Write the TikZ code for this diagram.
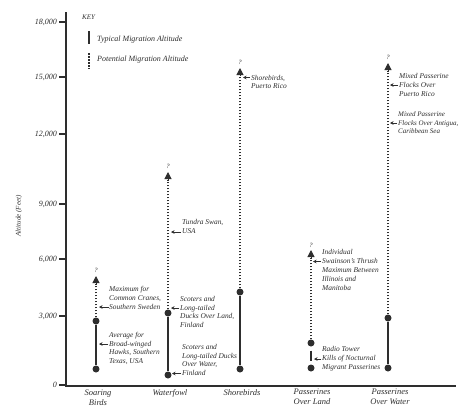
\documentclass[tikz,border=0pt]{standalone}
\usepackage{fontspec}
\setmainfont{Liberation Serif}
\usetikzlibrary{arrows.meta}
\definecolor{ink}{HTML}{2E2E2E}
\begin{document}
\begin{tikzpicture}[x=1pt,y=-1pt,
 lbl/.style={font=\fontsize{7.4}{8.9}\selectfont\itshape, text=ink, align=left, anchor=west, inner sep=0pt},
 keylbl/.style={font=\fontsize{8}{9}\selectfont\itshape, text=ink, anchor=west, inner sep=0pt},
 cat/.style={font=\fontsize{8.5}{10}\selectfont\itshape, text=ink, align=center, inner sep=0pt},
 ticklbl/.style={font=\fontsize{8}{9}\selectfont\itshape, text=ink, anchor=east, inner sep=0pt},
 qm/.style={font=\fontsize{6.5}{7}\selectfont\itshape, text=ink, inner sep=0pt},
 dotnode/.style={circle, fill=ink, inner sep=0pt, minimum size=7pt},
 solidbar/.style={draw=ink, line width=2.4pt},
 dotbar/.style={draw=ink, line width=2.4pt, dash pattern=on 1.7pt off 1.3pt},
 uptip/.style={draw=ink, line width=1pt, -{Triangle[width=7pt,length=7pt]}},
 ptr/.style={draw=ink, line width=0.9pt, -{Stealth[length=3.5pt,width=3.5pt]}},
 axisline/.style={draw=ink, line width=1.6pt},
 tickline/.style={draw=ink, line width=1.3pt},
]
\path[use as bounding box, fill=white] (0,0) rectangle (458,410);

% axes
\coordinate (ytop) at (66,12);
\coordinate (orig) at (66,386);
\coordinate (xend) at (456,386);
\draw[axisline] (ytop) -- (orig) -- (xend);

% ticks
\foreach \v/\yy/\nm in {0/385/t0, 3{,}000/316/t3, 6{,}000/259/t6, 9{,}000/204/t9, 12{,}000/134/t12, 15{,}000/77/t15, 18{,}000/22/t18}{
  \coordinate (\nm a) at (59,\yy);
  \coordinate (\nm b) at (66,\yy);
  \draw[tickline] (\nm a) -- (\nm b);
  \node[ticklbl] (\nm l) at (57,\yy) {\v};
}
\node[rotate=90, font=\fontsize{7}{8}\selectfont\itshape, text=ink, inner sep=0pt] (ylab) at (19,216) {Altitude (Feet)};

% key
\node[font=\fontsize{7}{8}\selectfont\itshape, text=ink, anchor=west, inner sep=0pt] (key) at (82,17) {KEY};
\coordinate (k1a) at (89,31); \coordinate (k1b) at (89,44);
\draw[draw=ink, line width=2.2pt] (k1a) -- (k1b);
\node[keylbl] (k1) at (97,40) {Typical Migration Altitude};
\coordinate (k2a) at (89,53); \coordinate (k2b) at (89,69);
\draw[draw=ink, line width=2.2pt, dash pattern=on 1.7pt off 1.3pt] (k2a) -- (k2b);
\node[keylbl] (k2) at (97,60) {Potential Migration Altitude};

% ---------- Soaring Birds (x=96)
\node[qm] (sq) at (96,270) {?};
\coordinate (stip) at (96,276); \coordinate (sbase) at (96,284);
\node[dotnode] (sd1) at (96,321) {};
\node[dotnode] (sd2) at (96,369) {};
\draw[dotbar] (sd1) -- (sbase);
\draw[uptip] (sbase) -- (stip);
\draw[solidbar] (sd1) -- (sd2);
\node[lbl] (sA) at (109,298) {Maximum for\\Common Cranes,\\Southern Sweden};
\coordinate (sAa) at (109,307); \coordinate (sAb) at (99,307);
\draw[ptr] (sAa) -- (sAb);
\node[lbl] (sB) at (109,348.5) {Average for\\Broad-winged\\Hawks, Southern\\Texas, USA};
\coordinate (sBa) at (108,344); \coordinate (sBb) at (99,344);
\draw[ptr] (sBa) -- (sBb);

% ---------- Waterfowl (x=168)
\node[qm] (wq) at (168,166) {?};
\coordinate (wtip) at (168,172); \coordinate (wbase) at (168,180);
\node[dotnode] (wd1) at (168,313) {};
\node[dotnode] (wd2) at (168,375) {};
\draw[dotbar] (wd1) -- (wbase);
\draw[uptip] (wbase) -- (wtip);
\draw[solidbar] (wd1) -- (wd2);
\node[lbl] (wT) at (182,226.5) {Tundra Swan,\\USA};
\coordinate (wTa) at (181,232); \coordinate (wTb) at (171,232);
\draw[ptr] (wTa) -- (wTb);
\node[lbl] (wA) at (180,312) {Scoters and\\Long-tailed\\Ducks Over Land,\\Finland};
\coordinate (wAa) at (179,308); \coordinate (wAb) at (171,308);
\draw[ptr] (wAa) -- (wAb);
\node[lbl] (wB) at (182,360) {Scoters and\\Long-tailed Ducks\\Over Water,\\Finland};
\coordinate (wBa) at (181,373.5); \coordinate (wBb) at (172,373.5);
\draw[ptr] (wBa) -- (wBb);

% ---------- Shorebirds (x=240)
\node[qm] (hq) at (240,62) {?};
\coordinate (htip) at (240,68); \coordinate (hbase) at (240,76);
\node[dotnode] (hd1) at (240,292) {};
\node[dotnode] (hd2) at (240,369) {};
\draw[dotbar] (hd1) -- (hbase);
\draw[uptip] (hbase) -- (htip);
\draw[solidbar] (hd1) -- (hd2);
\node[lbl] (hA) at (251,82) {Shorebirds,\\Puerto Rico};
\coordinate (hAa) at (250,77.5); \coordinate (hAb) at (243,77.5);
\draw[ptr] (hAa) -- (hAb);

% ---------- Passerines Over Land (x=311)
\node[qm] (lq) at (311,245) {?};
\coordinate (ltip) at (311,250); \coordinate (lbase) at (311,258);
\node[dotnode] (ld1) at (311,343) {};
\node[dotnode] (ld2) at (311,368) {};
\draw[dotbar] (ld1) -- (lbase);
\draw[uptip] (lbase) -- (ltip);
\draw[solidbar, shorten <=4pt, shorten >=3pt] (ld1) -- (ld2);
\node[lbl] (lA) at (322,270) {Individual\\Swainson's Thrush\\Maximum Between\\Illinois and\\Manitoba};
\coordinate (lAa) at (321,261.5); \coordinate (lAb) at (313,261.5);
\draw[ptr] (lAa) -- (lAb);
\node[lbl] (lB) at (322,359) {Radio Tower\\Kills of Nocturnal\\Migrant Passerines};
\coordinate (lBa) at (321,359); \coordinate (lBb) at (314,359);
\draw[ptr] (lBa) -- (lBb);

% ---------- Passerines Over Water (x=388)
\node[qm] (pq) at (388,57) {?};
\coordinate (ptip) at (388,63); \coordinate (pbase) at (388,71);
\node[dotnode] (pd1) at (388,318) {};
\node[dotnode] (pd2) at (388,368) {};
\draw[dotbar] (pd1) -- (pbase);
\draw[uptip] (pbase) -- (ptip);
\draw[solidbar] (pd1) -- (pd2);
\node[lbl] (pA) at (399,85) {Mixed Passerine\\Flocks Over\\Puerto Rico};
\coordinate (pAa) at (398,85); \coordinate (pAb) at (390,85);
\draw[ptr] (pAa) -- (pAb);
\node[lbl, font=\fontsize{7}{8.6}\selectfont\itshape] (pB) at (398,123) {Mixed Passerine\\Flocks Over Antigua,\\Caribbean Sea};
\coordinate (pBa) at (397,123); \coordinate (pBb) at (390,123);
\draw[ptr] (pBa) -- (pBb);

% categories
\node[cat] (c1) at (98,398) {Soaring\\Birds};
\node[cat] (c2) at (170,393) {Waterfowl};
\node[cat] (c3) at (242,393) {Shorebirds};
\node[cat] (c4) at (312,397) {Passerines\\Over Land};
\node[cat] (c5) at (390,397) {Passerines\\Over Water};
\end{tikzpicture}
\end{document}
